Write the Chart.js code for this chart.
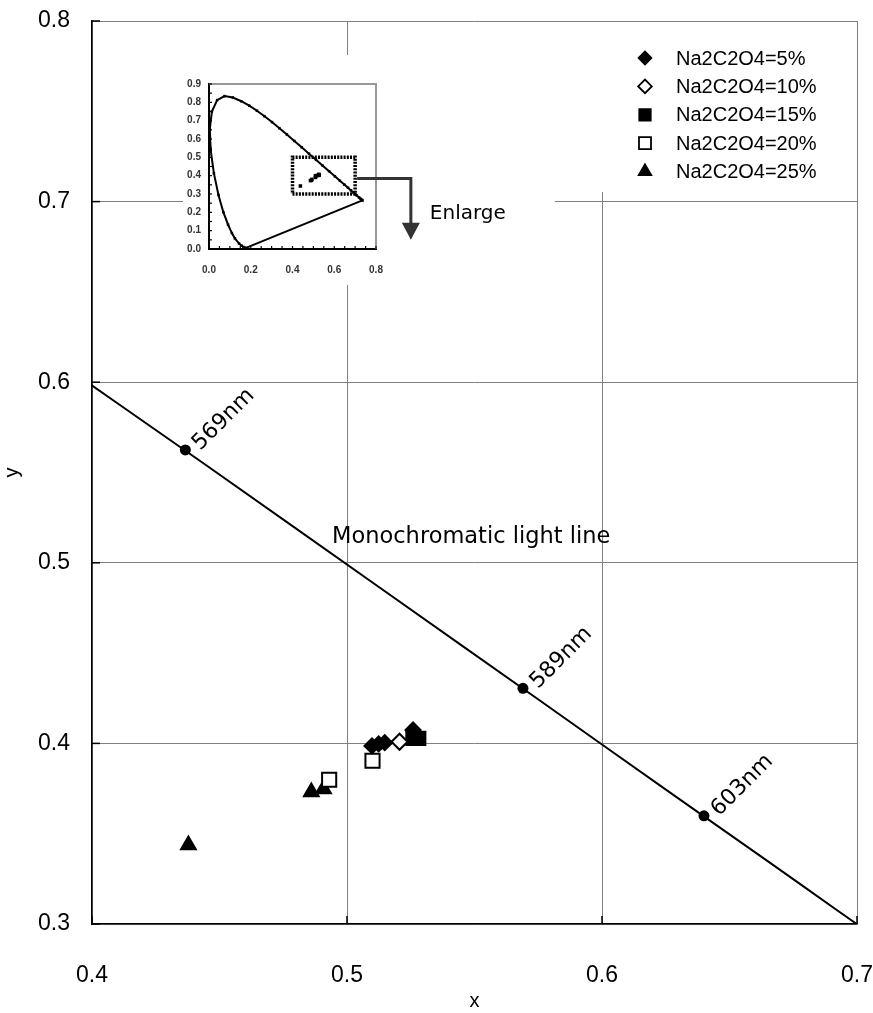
<!DOCTYPE html>
<html>
<head>
<meta charset="utf-8">
<script src="https://cdn.jsdelivr.net/npm/chart.js@4.4.1/dist/chart.umd.min.js"></script>
<style>
html, body { margin: 0; padding: 0; background: #fff; }
#wrap { position: relative; width: 873px; height: 1013px; }
#main { position: absolute; left: 0; top: 0; }
#inset { position: absolute; left: 183px; top: 55px; background: #fff; }
</style>
</head>
<body>
<div id="wrap">
  <canvas id="main" width="873" height="1013"></canvas>
  <canvas id="inset" width="372" height="230"></canvas>
</div>
<script>
// CIE 1931 spectral locus (chromaticity x, y)
const locusNm = [380, 400, 420, 430, 440, 450, 460, 470, 475, 480, 485, 490, 495, 500, 505, 510, 515, 520, 525, 530, 535, 540, 545, 550, 555, 560, 565, 570, 575, 580, 585, 590, 595, 600, 605, 610, 615, 620, 625, 630, 640, 650, 660, 680, 700];
const locusX = [0.1741, 0.1733, 0.1714, 0.1689, 0.1644, 0.1566, 0.1440, 0.1241, 0.1096, 0.0913, 0.0687, 0.0454, 0.0235, 0.0082, 0.0039, 0.0139, 0.0389, 0.0743, 0.1142, 0.1547, 0.1929, 0.2296, 0.2658, 0.3016, 0.3373, 0.3731, 0.4087, 0.4441, 0.4788, 0.5125, 0.5448, 0.5752, 0.6029, 0.6270, 0.6482, 0.6658, 0.6801, 0.6915, 0.7006, 0.7079, 0.7190, 0.7260, 0.7300, 0.7334, 0.7347];
const locusY = [0.0050, 0.0048, 0.0051, 0.0069, 0.0109, 0.0177, 0.0297, 0.0578, 0.0868, 0.1327, 0.2007, 0.2950, 0.4127, 0.5384, 0.6548, 0.7502, 0.8120, 0.8338, 0.8262, 0.8059, 0.7816, 0.7543, 0.7243, 0.6923, 0.6589, 0.6245, 0.5896, 0.5547, 0.5202, 0.4866, 0.4544, 0.4242, 0.3965, 0.3725, 0.3514, 0.3340, 0.3197, 0.3083, 0.2993, 0.2920, 0.2809, 0.2740, 0.2700, 0.2666, 0.2653];

// marked wavelengths on the locus
const markName = ['569nm', '589nm', '603nm'];
const markX = [0.4366, 0.5690, 0.6400];
const markY = [0.5625, 0.4305, 0.3599];

// measured colour coordinates
const seriesNames = ['Na2C2O4=5%', 'Na2C2O4=10%', 'Na2C2O4=15%', 'Na2C2O4=20%', 'Na2C2O4=25%'];
const s5X = [0.5098, 0.5124, 0.5148, 0.5259];
const s5Y = [0.3986, 0.3997, 0.4004, 0.4074];
const s10X = [0.5206];
const s10Y = [0.4009];
const s15X = [0.5259, 0.5281];
const s15Y = [0.4028, 0.4028];
const s20X = [0.4930, 0.5100];
const s20Y = [0.3799, 0.3904];
const s25X = [0.4378, 0.4860, 0.4908];
const s25Y = [0.3437, 0.3731, 0.3748];

// zoom frame drawn in the inset
const frameX = [0.4, 0.7, 0.7, 0.4, 0.4];
const frameY = [0.3, 0.3, 0.5, 0.5, 0.3];

const xTicks = ['0.4', '0.5', '0.6', '0.7'];
const yTicks = ['0.3', '0.4', '0.5', '0.6', '0.7', '0.8'];

const lineCaption = 'Monochromatic light line';
const captionAt = [0.5487, 0.5143];

const FONT = "'Liberation Sans', Arial, sans-serif";
const TEXT_FONT = "'DejaVu Sans', sans-serif";

const pts = (xs, ys) => xs.map((v, i) => ({ x: v, y: ys[i] }));
const locusPts = pts(locusX, locusY);
const seriesPts = [pts(s5X, s5Y), pts(s10X, s10Y), pts(s15X, s15Y), pts(s20X, s20Y), pts(s25X, s25Y)];

const markerStyle = [
  { pointStyle: 'rectRot', radius: 7.5, fill: '#000' },
  { pointStyle: 'rectRot', radius: 8, fill: '#fff' },
  { pointStyle: 'rect', radius: 9.5, fill: '#000' },
  { pointStyle: 'rect', radius: 10, fill: '#fff' },
  { pointStyle: 'triangle', radius: 8.5, fill: '#000' }
];

// keep the plot area where the layout padding puts it
const noPad = s => { s.paddingLeft = 0; s.paddingRight = 0; s.paddingTop = 0; s.paddingBottom = 0; };

const mainDecor = {
  id: 'mainDecor',
  afterDatasetsDraw(chart) {
    const { ctx, chartArea: a, scales: { x, y } } = chart;
    ctx.save();
    // short inside tick marks
    ctx.strokeStyle = '#000';
    ctx.lineWidth = 1.5;
    y.ticks.forEach(t => {
      const py = y.getPixelForValue(t.value);
      ctx.beginPath(); ctx.moveTo(a.left, py); ctx.lineTo(a.left + 8, py); ctx.stroke();
    });
    x.ticks.forEach(t => {
      const px = x.getPixelForValue(t.value);
      ctx.beginPath(); ctx.moveTo(px, a.bottom); ctx.lineTo(px, a.bottom - 8); ctx.stroke();
    });
    // wavelength labels
    ctx.fillStyle = '#000';
    ctx.font = '22px ' + TEXT_FONT;
    ctx.textAlign = 'left';
    ctx.textBaseline = 'middle';
    markName.forEach((n, i) => {
      const px = x.getPixelForValue(markX[i]);
      const py = y.getPixelForValue(markY[i]);
      ctx.save();
      ctx.translate(px + 11, py - 3);
      ctx.rotate(-Math.PI / 4);
      ctx.fillText(n, 0, 0);
      ctx.restore();
    });
    ctx.font = '22.5px ' + TEXT_FONT;
    ctx.textAlign = 'center';
    ctx.fillText(lineCaption, x.getPixelForValue(captionAt[0]), y.getPixelForValue(captionAt[1]));
    ctx.restore();
  },
  afterDraw(chart) {
    const { ctx, chartArea: a } = chart;
    ctx.save();
    ctx.fillStyle = '#fff';
    ctx.fillRect(a.right - 300, a.top + 1, 299, 170);
    ctx.font = '20px ' + FONT;
    ctx.textAlign = 'left';
    ctx.textBaseline = 'middle';
    seriesNames.forEach((name, i) => {
      const st = markerStyle[i];
      const cy = a.top + 37 + i * 28.4;
      const cx = a.right - 212;
      ctx.fillStyle = st.fill;
      ctx.strokeStyle = '#000';
      ctx.lineWidth = 1.8;
      Chart.helpers.drawPoint(ctx, { pointStyle: st.pointStyle, radius: st.radius * 0.85, rotation: 0, borderWidth: 1.8 }, cx, cy);
      ctx.fillStyle = '#000';
      ctx.fillText(name, a.right - 181, cy + 1);
    });
    ctx.restore();
  }
};

new Chart(document.getElementById('main'), {
  type: 'scatter',
  data: {
    datasets: [
      { data: locusPts, showLine: true, borderColor: '#000', borderWidth: 2, pointRadius: 0, tension: 0 },
      { data: pts(markX, markY), pointStyle: 'circle', pointRadius: 5.5, pointBackgroundColor: '#000', pointBorderWidth: 0 }
    ].concat(seriesPts.map((d, i) => ({
      label: seriesNames[i],
      data: d,
      pointStyle: markerStyle[i].pointStyle,
      pointRadius: markerStyle[i].radius,
      pointBackgroundColor: markerStyle[i].fill,
      pointBorderColor: '#000',
      pointBorderWidth: 2
    })))
  },
  options: {
    responsive: false,
    animation: false,
    devicePixelRatio: 1,
    layout: { padding: { left: 0, right: 16, top: 21, bottom: 0 } },
    plugins: { legend: { display: false }, tooltip: { enabled: false } },
    scales: {
      x: {
        type: 'linear', min: 0.4, max: 0.7,
        afterFit: s => { s.height = 89; noPad(s); },
        afterBuildTicks: s => { s.ticks = xTicks.map(v => ({ value: +v })); },
        ticks: { callback: v => v.toFixed(1), color: '#000', font: { family: FONT, size: 23 }, padding: 38, maxRotation: 0 },
        grid: { color: '#808080', lineWidth: 1, drawTicks: false },
        border: { color: '#000', width: 1.5 },
        title: { display: true, text: 'x', color: '#000', font: { family: FONT, size: 20 }, padding: 0 }
      },
      y: {
        type: 'linear', min: 0.3, max: 0.8,
        afterFit: s => { s.width = 92; noPad(s); },
        afterBuildTicks: s => { s.ticks = yTicks.map(v => ({ value: +v })); },
        ticks: { callback: v => v.toFixed(1), color: '#000', font: { family: FONT, size: 23 }, padding: 22 },
        grid: { color: '#808080', lineWidth: 1, drawTicks: false },
        border: { color: '#000', width: 1.5 },
        title: { display: true, text: 'y', color: '#000', font: { family: FONT, size: 20 }, padding: 0 }
      }
    }
  },
  plugins: [mainDecor]
});

// inset: whole chromaticity diagram
const arrowRowY = 0.385;
const arrowStemX = 0.967;
const arrowTipY = 0.05;

const insetDecor = {
  id: 'insetDecor',
  afterDraw(chart) {
    const { ctx, chartArea: a, scales: { x, y } } = chart;
    ctx.save();
    ctx.strokeStyle = '#999';
    ctx.lineWidth = 2;
    ctx.beginPath();
    ctx.moveTo(a.left, a.top); ctx.lineTo(a.right, a.top); ctx.lineTo(a.right, a.bottom);
    ctx.stroke();
    // small inside ticks
    ctx.strokeStyle = '#000';
    ctx.lineWidth = 1.2;
    for (let v = 0; v <= 0.8001; v += 0.05) {
      const px = x.getPixelForValue(v);
      ctx.beginPath(); ctx.moveTo(px, a.bottom); ctx.lineTo(px, a.bottom - 3); ctx.stroke();
    }
    for (let v = 0; v <= 0.9001; v += 0.05) {
      const py = y.getPixelForValue(v);
      ctx.beginPath(); ctx.moveTo(a.left, py); ctx.lineTo(a.left + 3, py); ctx.stroke();
    }
    // arrow to the enlarged view
    const x0 = x.getPixelForValue(frameX[1]) + 2;
    const y0 = y.getPixelForValue(arrowRowY);
    const sx = x.getPixelForValue(arrowStemX);
    const ty = y.getPixelForValue(arrowTipY);
    ctx.strokeStyle = '#333';
    ctx.fillStyle = '#333';
    ctx.lineWidth = 3;
    ctx.beginPath();
    ctx.moveTo(x0, y0); ctx.lineTo(sx, y0); ctx.lineTo(sx, ty - 14);
    ctx.stroke();
    ctx.beginPath();
    ctx.moveTo(sx - 9, ty - 17); ctx.lineTo(sx + 9, ty - 17); ctx.lineTo(sx, ty);
    ctx.closePath();
    ctx.fill();
    ctx.fillStyle = '#000';
    ctx.font = '20px ' + TEXT_FONT;
    ctx.textAlign = 'left';
    ctx.textBaseline = 'middle';
    ctx.fillText('Enlarge', sx + 19, ty - 26);
    ctx.restore();
  }
};

new Chart(document.getElementById('inset'), {
  type: 'scatter',
  data: {
    datasets: [
      { data: locusPts.concat([locusPts[0]]), showLine: true, borderColor: '#000', borderWidth: 2, pointStyle: 'rect', pointRadius: 1.8, pointBackgroundColor: '#000', pointBorderWidth: 0 },
      { data: pts(frameX, frameY), showLine: true, borderColor: '#000', borderWidth: 3.5, borderDash: [2, 1.2], pointRadius: 0 }
    ].concat(seriesPts.map(d => ({
      data: d, pointStyle: 'rect', pointRadius: 2.5, pointBackgroundColor: '#000', pointBorderWidth: 0
    })))
  },
  options: {
    responsive: false,
    animation: false,
    devicePixelRatio: 1,
    layout: { padding: { left: 0, right: 179, top: 29, bottom: 0 } },
    plugins: { legend: { display: false }, tooltip: { enabled: false } },
    scales: {
      x: {
        type: 'linear', min: 0, max: 0.8,
        afterFit: s => { s.height = 36; noPad(s); },
        ticks: { stepSize: 0.2, callback: v => v.toFixed(1), color: '#333', font: { family: FONT, size: 10, weight: 'bold' }, padding: 15, maxRotation: 0 },
        grid: { drawOnChartArea: false, drawTicks: false },
        border: { color: '#000', width: 2 }
      },
      y: {
        type: 'linear', min: 0, max: 0.9,
        afterFit: s => { s.width = 26; noPad(s); },
        ticks: { stepSize: 0.1, callback: v => v.toFixed(1), color: '#333', font: { family: FONT, size: 10, weight: 'bold' }, padding: 8 },
        grid: { drawOnChartArea: false, drawTicks: false },
        border: { color: '#000', width: 2 }
      }
    }
  },
  plugins: [insetDecor]
});
</script>
</body>
</html>
